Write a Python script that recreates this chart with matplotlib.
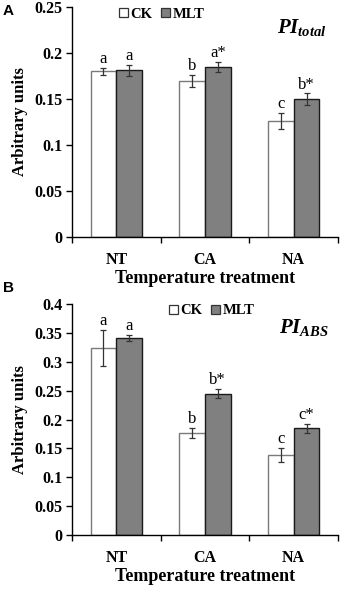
import matplotlib
matplotlib.use("Agg")
import matplotlib.pyplot as plt
import numpy as np

categories = ["NT", "CA", "NA"]
series = ["CK", "MLT"]

a_ck = [0.180, 0.170, 0.126]
a_mlt = [0.181, 0.185, 0.150]
a_ck_err = [0.004, 0.0065, 0.009]
a_mlt_err = [0.006, 0.0056, 0.006]
a_ck_lab = ["a", "b", "c"]
a_mlt_lab = ["a", "a*", "b*"]

b_ck = [0.324, 0.177, 0.138]
b_mlt = [0.341, 0.245, 0.185]
b_ck_err = [0.031, 0.009, 0.012]
b_mlt_err = [0.005, 0.008, 0.008]
b_ck_lab = ["a", "b", "c"]
b_mlt_lab = ["a", "b*", "c*"]

a_yticks = [0, 0.05, 0.1, 0.15, 0.2, 0.25]
a_yticklabels = ["0", "0.05", "0.1", "0.15", "0.2", "0.25"]
b_yticks = [0, 0.05, 0.1, 0.15, 0.2, 0.25, 0.3, 0.35, 0.4]
b_yticklabels = ["0", "0.05", "0.1", "0.15", "0.2", "0.25", "0.3", "0.35", "0.4"]

plt.rcParams['font.family'] = ['Liberation Serif', 'DejaVu Serif']
plt.rcParams['mathtext.fontset'] = 'custom'
plt.rcParams['mathtext.it'] = 'Liberation Serif:italic:bold'
plt.rcParams['mathtext.rm'] = 'Liberation Serif:bold'

fig = plt.figure(figsize=(3.4, 5.89), dpi=100)
W, H = 340, 589

def make_axes(top, bottom, left=72, right=338):
    return fig.add_axes([left / W, 1 - bottom / H, (right - left) / W, (bottom - top) / H])

axA = make_axes(7, 237)
axB = make_axes(304, 535)

width = 0.29
off = 0.145
ck_color = "white"
mlt_color = "#808080"

def draw(ax, ck, mlt, ck_err, mlt_err, ck_lab, mlt_lab, yticks, yticklabels, ymax, title, leg_pos):
    x = np.arange(len(categories))
    ax.bar(x - off, ck, width, color=ck_color, edgecolor="#7a7a7a", linewidth=1.0, zorder=2)
    ax.bar(x + off, mlt, width, color=mlt_color, edgecolor="#1a1a1a", linewidth=1.0, zorder=2)
    ax.errorbar(x - off, ck, yerr=ck_err, fmt="none", ecolor="#333333", elinewidth=0.9, capsize=2.5, capthick=0.9, zorder=3)
    ax.errorbar(x + off, mlt, yerr=mlt_err, fmt="none", ecolor="#333333", elinewidth=0.9, capsize=2.5, capthick=0.9, zorder=3)
    for xi, v, e, l in zip(x - off, ck, ck_err, ck_lab):
        ax.text(xi, v + e + ymax * 0.004, l, ha="center", va="bottom", fontsize=12)
    for xi, v, e, l in zip(x + off, mlt, mlt_err, mlt_lab):
        ax.text(xi, v + e + ymax * 0.004, l, ha="center", va="bottom", fontsize=12)
    ax.set_xlim(-0.5, 2.5)
    ax.set_ylim(0, ymax)
    ax.set_yticks(yticks)
    ax.set_yticklabels(yticklabels, fontweight="bold", fontsize=11.5)
    ax.set_xticks([-0.5, 0.5, 1.5, 2.5])
    ax.set_xticklabels([])
    ax.set_xticks(x, minor=True)
    ax.set_xticklabels(categories, minor=True, fontweight="bold", fontsize=11.5)
    ax.tick_params(axis="x", which="minor", length=0, pad=11)
    ax.tick_params(axis="x", which="major", length=4, width=1, direction="out")
    ax.tick_params(axis="y", length=4, width=1, direction="out", pad=3)
    ax.spines["top"].set_visible(False)
    ax.spines["right"].set_visible(False)
    ax.spines["left"].set_linewidth(1.0)
    ax.spines["bottom"].set_linewidth(1.0)
    ax.set_ylabel("Arbitrary units", fontweight="bold", fontsize=12, labelpad=4)
    ax.set_xlabel("Temperature treatment", fontweight="bold", fontsize=13, labelpad=1)
    h1 = plt.Rectangle((0, 0), 1, 1, facecolor=ck_color, edgecolor="#333333", linewidth=0.9)
    h2 = plt.Rectangle((0, 0), 1, 1, facecolor=mlt_color, edgecolor="#333333", linewidth=0.9)
    ax.legend([h1, h2], series, loc="center", bbox_to_anchor=leg_pos, bbox_transform=fig.transFigure,
              frameon=False, ncol=2, prop={"weight": "bold", "size": 10.5}, handlelength=0.6,
              handleheight=0.6, handletextpad=0.2, columnspacing=0.6, borderpad=0)
    fig.text(*title[1], title[0], fontsize=15, ha="left", va="baseline")

draw(axA, a_ck, a_mlt, a_ck_err, a_mlt_err, a_ck_lab, a_mlt_lab, a_yticks, a_yticklabels, 0.25,
     (r"$\mathit{PI}_{\mathit{total}}$", (277 / W, 1 - 33 / H)), (162 / W, 1 - 14 / H))
draw(axB, b_ck, b_mlt, b_ck_err, b_mlt_err, b_ck_lab, b_mlt_lab, b_yticks, b_yticklabels, 0.4,
     (r"$\mathit{PI}_{\mathit{ABS}}$", (279 / W, 1 - 333 / H)), (212 / W, 1 - 311 / H))

fig.text(3 / W, 1 - 11 / H, "A", family="Liberation Sans", fontweight="bold", fontsize=11, va="center")
fig.text(3 / W, 1 - 288 / H, "B", family="Liberation Sans", fontweight="bold", fontsize=11, va="center")

fig.savefig("out.png", dpi=100)
